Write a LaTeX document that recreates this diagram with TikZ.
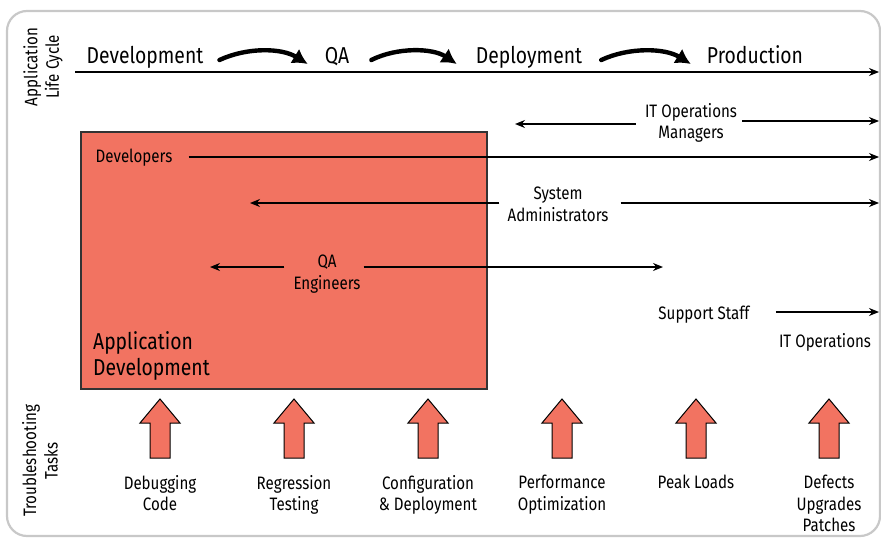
\documentclass[tikz,border=0pt]{standalone}
\usepackage{fontspec}
\setmainfont{Fira Sans}[FakeStretch=0.84]
\usetikzlibrary{arrows.meta,calc}
\definecolor{boxred}{RGB}{242,115,97}
\definecolor{framegray}{RGB}{200,200,200}
\begin{document}
\begin{tikzpicture}[x=1pt,y=-1pt,
  lbl/.style={inner sep=0pt, align=center, font=\fontsize{18}{21.5}\selectfont},
  stage/.style={inner sep=0pt, font=\fontsize{23}{26}\selectfont},
  conn/.style={line width=1.3pt, -{Stealth[length=10pt,width=8pt]}},
  flow/.style={line width=4.4pt, line cap=round, -{Latex[length=15pt,width=17pt]}},
  appbox/.style={draw=black!80, line width=1.5pt, fill=boxred, inner sep=0pt},
  uparrow/.style={draw=black, line width=1pt, fill=boxred, line join=miter},
  uparr/.pic={\draw[uparrow] (-10,59) -- (-10,24) -- (-20,24) -- (0,0) -- (20,24) -- (10,24) -- (10,59) -- cycle;},
]
\useasboundingbox (0,0) rectangle (881,538);
% outer frame
\draw[framegray, line width=2.2pt, rounded corners=20pt] (7,11) rectangle (880,536);

% side captions
\node[lbl, rotate=90] (alc) at (43,67) {Application\\Life Cycle};
\node[lbl, rotate=90] (tt) at (40,461) {Troubleshooting\\Tasks};

% life-cycle stages
\node[stage, anchor=base] (dev) at (145,63) {Development};
\node[stage, anchor=base] (qa) at (337,63) {QA};
\node[stage, anchor=base] (dep) at (529,63) {Deployment};
\node[stage, anchor=base] (prod) at (755,63) {Production};
\draw[flow] ($(dev.base east)+(16,-3)$) .. controls +(28,-13) and +(-26,-16) .. ($(qa.base west)+(-17,1)$);
\draw[flow] ($(qa.base east)+(22,-3)$) .. controls +(26,-13) and +(-24,-16) .. ($(dep.base west)+(-19,1)$);
\draw[flow] ($(dep.base east)+(19,-3)$) .. controls +(28,-13) and +(-26,-16) .. ($(prod.base west)+(-16,1)$);
\coordinate (lcstart) at (75,72);
\coordinate (lcend) at (879,72);
\draw[conn] (lcstart) -- (lcend);

% application development area
\node[appbox, minimum width=406pt, minimum height=257pt, anchor=north west] (appdev) at (80,131) {};
\node[stage, align=left, anchor=north west] (appdevlbl) at (93,331) {Application\\Development};

% roles
\node[lbl, anchor=north] (itm) at (691,103) {IT Operations\\Managers};
\coordinate (itmL) at (515,124);
\coordinate (itmR) at (879,121);
\draw[conn] ($(itm.west |- itmL)+(-9,0)$) -- (itmL);
\draw[conn] ($(itm.east |- itmR)+(5,0)$) -- (itmR);

\node[lbl, anchor=base] (devs) at (134,162) {Developers};
\coordinate (devsR) at (879,157);
\draw[conn] ($(devs.east |- devsR)+(16,0)$) -- (devsR);

\node[lbl, anchor=north] (sys) at (558,187) {System\\Administrators};
\coordinate (sysL) at (250,203);
\coordinate (sysR) at (879,203);
\draw[conn] ($(sys.west |- sysL)+(-8,0)$) -- (sysL);
\draw[conn] ($(sys.east |- sysR)+(12,0)$) -- (sysR);

\node[lbl, anchor=north] (qae) at (327,255) {QA\\Engineers};
\coordinate (qaeL) at (210,267);
\coordinate (qaeR) at (663,267);
\draw[conn] ($(qae.west |- qaeL)+(-9,0)$) -- (qaeL);
\draw[conn] ($(qae.east |- qaeR)+(3,0)$) -- (qaeR);

\node[lbl, anchor=base] (sup) at (704,319) {Support Staff};
\coordinate (supR) at (879,312);
\draw[conn] ($(sup.east |- supR)+(26,0)$) -- (supR);

\node[lbl, anchor=base] (itops) at (825,347) {IT Operations};

% troubleshooting tasks
\pic (a1) at (160,399) {uparr};
\pic (a2) at (294,399) {uparr};
\pic (a3) at (428,399) {uparr};
\pic (a4) at (562,399) {uparr};
\pic (a5) at (696,399) {uparr};
\pic (a6) at (829,399) {uparr};
\node[lbl, anchor=north] (t1) at (160,475) {Debugging\\Code};
\node[lbl, anchor=north] (t2) at (294,475) {Regression\\Testing};
\node[lbl, anchor=north] (t3) at (428,475) {Configuration\\\& Deployment};
\node[lbl, anchor=north] (t4) at (562,475) {Performance\\Optimization};
\node[lbl, anchor=north] (t5) at (696,475) {Peak Loads};
\node[lbl, anchor=north] (t6) at (829,475) {Defects\\Upgrades\\Patches};
\end{tikzpicture}
\end{document}
